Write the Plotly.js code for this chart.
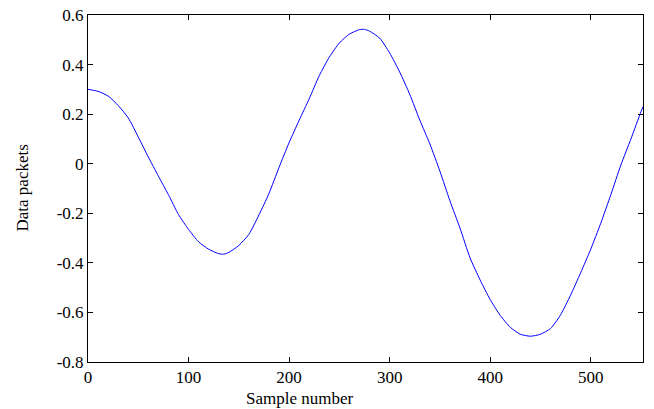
<!DOCTYPE html>
<html>
<head>
<meta charset="utf-8">
<script src="https://cdn.plot.ly/plotly-3.0.1.min.js"></script>
<style>html,body{margin:0;padding:0;background:#fff;}#chart{width:654px;height:409px;}</style>
</head>
<body>
<div id="chart"></div>
<script>
var sampleNumber = [0,10,20,30,40,50,60,70,80,90,100,110,120,130,135,140,150,160,170,180,190,200,210,220,230,240,250,260,270,275,280,290,300,310,320,330,340,350,360,370,380,390,400,410,420,430,440,450,460,470,480,490,500,510,520,530,540,550,552];
var dataPackets = [0.300,0.292,0.273,0.235,0.185,0.108,0.027,-0.050,-0.125,-0.205,-0.265,-0.315,-0.345,-0.363,-0.365,-0.358,-0.330,-0.285,-0.207,-0.120,-0.015,0.085,0.175,0.262,0.355,0.430,0.487,0.523,0.541,0.542,0.535,0.507,0.447,0.370,0.280,0.176,0.080,-0.030,-0.150,-0.260,-0.380,-0.469,-0.548,-0.612,-0.660,-0.688,-0.696,-0.688,-0.665,-0.610,-0.530,-0.440,-0.345,-0.240,-0.125,-0.005,0.100,0.210,0.230];
var xTicks = [0,100,200,300,400,500];
var yTicks = [-0.8,-0.6,-0.4,-0.2,0,0.2,0.4,0.6];
var yTickText = ['-0.8','-0.6','-0.4','-0.2','0','0.2','0.4','0.6'];

var font = {family: '"Liberation Serif", "Times New Roman", serif', size: 17, color: '#000'};

var trace = {
  x: sampleNumber, y: dataPackets, type: 'scatter', mode: 'lines',
  line: {color: '#0000ff', width: 1, shape: 'spline', smoothing: 0.6}, hoverinfo: 'skip'
};

var layout = {
  width: 654, height: 409,
  margin: {l: 88, r: 11, t: 15, b: 47},
  paper_bgcolor: '#fff', plot_bgcolor: '#fff',
  showlegend: false,
  font: font,
  xaxis: {
    range: [0, 552], tickvals: xTicks, ticks: 'inside', ticklen: 5, tickcolor: '#000',
    showline: true, linecolor: '#000', linewidth: 1, mirror: 'ticks',
    showgrid: false, zeroline: false, tickfont: font
  },
  yaxis: {
    range: [-0.8, 0.6], tickvals: yTicks, ticktext: yTickText, ticks: 'inside', ticklen: 5, tickcolor: '#000',
    showline: true, linecolor: '#000', linewidth: 1, mirror: 'ticks',
    showgrid: false, zeroline: false, tickfont: font
  },
  annotations: [{
    text: 'Sample number', xref: 'paper', yref: 'paper', x: 0.382, y: 0,
    yshift: -36, xanchor: 'center', yanchor: 'middle', showarrow: false, font: font
  }, {
    text: 'Data packets', xref: 'paper', yref: 'paper', x: 0, y: 0.5, textangle: -90,
    xshift: -66, xanchor: 'center', yanchor: 'middle', showarrow: false, font: font
  }]
};

Plotly.newPlot('chart', [trace], layout, {displayModeBar: false, staticPlot: true});
</script>
</body>
</html>
